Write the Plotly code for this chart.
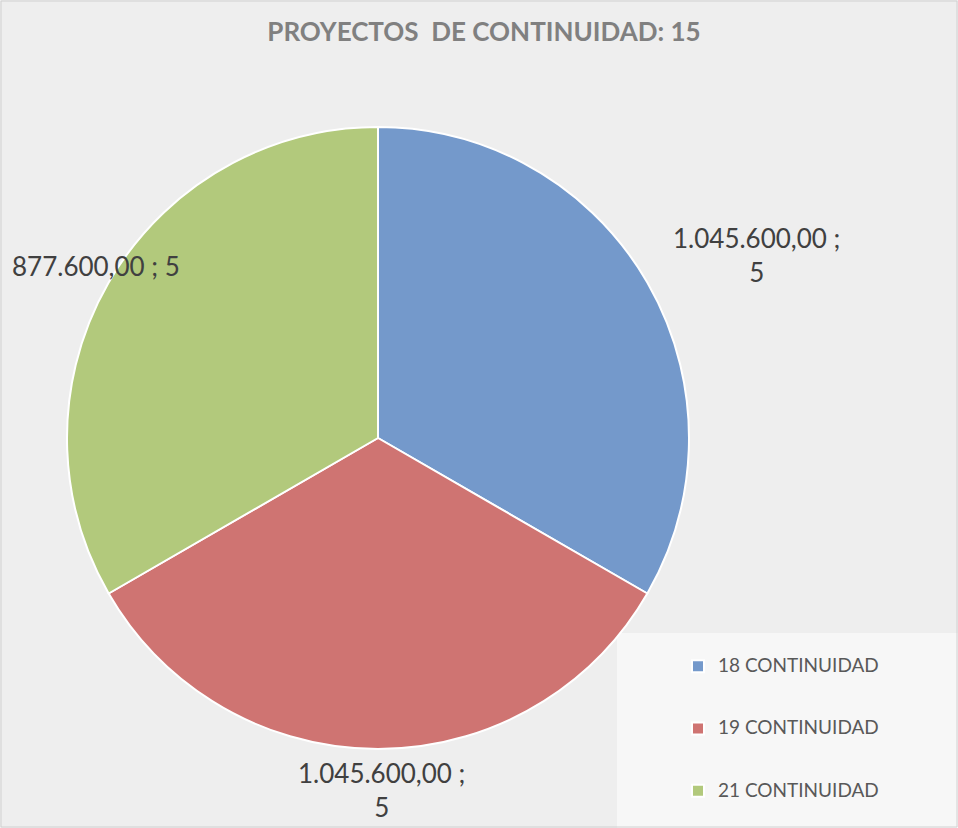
import plotly.graph_objects as go

# ---- data ----
categories = ["18 CONTINUIDAD", "19 CONTINUIDAD", "21 CONTINUIDAD"]
projects = [5, 5, 5]
amounts = ["1.045.600,00", "1.045.600,00", "877.600,00"]
title_text = "PROYECTOS\u00a0 DE CONTINUIDAD: 15"

# ---- style ----
colors = ["#7499cb", "#cf7472", "#b2c97c"]
W, H = 958, 828


def px(x):
    return x / W


def py(y):
    return 1 - y / H


NB = "\u00a0"
legend_labels = [f'{NB}<br><span style="font-size:19px">{c}</span><br>{NB}' for c in categories]

fig = go.Figure(
    go.Pie(
        labels=legend_labels,
        values=projects,
        customdata=amounts,
        sort=False,
        direction="clockwise",
        rotation=0,
        marker=dict(colors=colors, line=dict(color="white", width=2)),
        textinfo="none",
        hovertemplate="%{customdata} ; %{value}<extra></extra>",
        domain=dict(x=[px(67), px(689)], y=[py(749), py(127)]),
    )
)

# data labels (text built from the data lists)
label_pos = [(756, 255), (381, 790), (96, 266)]
for (lx, ly), amt, v, i in zip(label_pos, amounts, projects, range(3)):
    txt = f"{amt} ;<br>{v}" if i < 2 else f"{amt} ; {v}"
    fig.add_annotation(
        x=px(lx), y=py(ly), xref="paper", yref="paper",
        text=txt, showarrow=False, align="center",
        xanchor="center", yanchor="middle",
        font=dict(family="Lato", size=26, color="#404040"),
    )

fig.update_layout(
    width=W, height=H,
    margin=dict(l=0, r=0, t=0, b=0),
    paper_bgcolor="#eeeeee",
    plot_bgcolor="#eeeeee",
    title=dict(
        text=title_text, x=px(484), y=py(32), xanchor="center", yanchor="middle",
        font=dict(family="Lato", size=26, color="#808080", weight="bold"),
    ),
    showlegend=True,
    legend=dict(
        x=px(678), xanchor="left", y=py(630), yanchor="top",
        bgcolor="rgba(0,0,0,0)", font=dict(family="Lato", size=15.2, color="#595959"),
        valign="middle",
    ),
    shapes=[
        dict(type="rect", xref="paper", yref="paper", x0=px(617), x1=1, y0=0, y1=py(633),
             fillcolor="#f7f7f7", line=dict(width=0), layer="below"),
        dict(type="rect", xref="paper", yref="paper", x0=px(1), x1=px(957), y0=py(827), y1=py(1),
             fillcolor="rgba(0,0,0,0)", line=dict(color="#d0d0d0", width=1), layer="above"),
    ],
)

fig.write_html(
    "out.html",
    config={"displayModeBar": False},
    post_script="document.body.style.margin='0';document.body.style.overflow='hidden';",
)
